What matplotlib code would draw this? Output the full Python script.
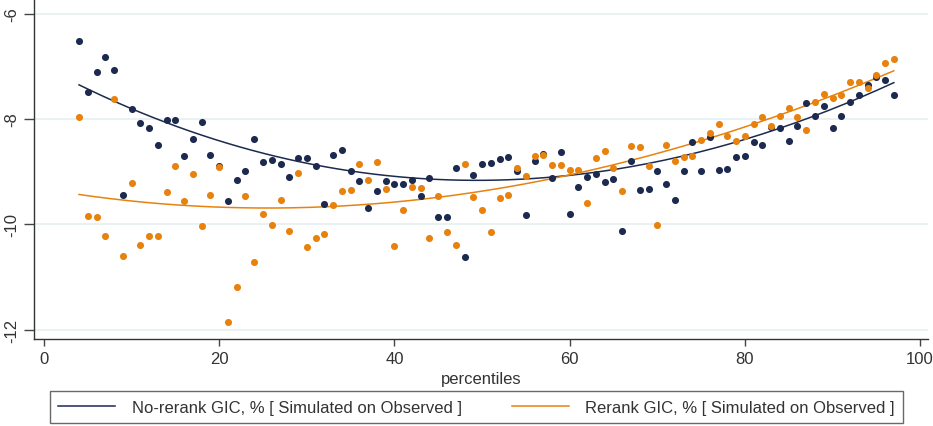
import numpy as np
import matplotlib
matplotlib.use("Agg")
import matplotlib.pyplot as plt
from matplotlib.lines import Line2D

plt.rcParams['font.family'] = ['Liberation Sans', 'DejaVu Sans']

percentiles = list(range(4, 98))

norerank = [-6.51, -7.48, -7.11, -6.83, -7.07, -9.45, -7.81, -8.08, -8.17, -8.50,
            -8.01, -8.01, -8.70, -8.38, -8.06, -8.69, -8.89, -9.56, -9.15, -8.99,
            -8.38, -8.81, -8.77, -8.85, -9.11, -8.75, -8.75, -8.89, -9.62, -8.68,
            -8.58, -8.99, -9.17, -9.70, -9.36, -9.17, -9.24, -9.24, -9.15, -9.46,
            -9.13, -9.87, -9.87, -8.94, -10.63, -9.06, -8.86, -8.84, -8.76, -8.72,
            -8.98, -9.83, -8.80, -8.67, -9.12, -8.63, -9.80, -9.30, -9.11, -9.05,
            -9.20, -9.14, -10.13, -8.80, -9.35, -9.33, -8.99, -9.24, -9.54, -8.99,
            -8.43, -8.98, -8.35, -8.96, -8.95, -8.72, -8.70, -8.43, -8.50, -8.16,
            -8.18, -8.42, -8.14, -7.70, -7.94, -7.75, -8.18, -7.94, -7.68, -7.55,
            -7.35, -7.20, -7.26, -7.55]

rerank = [-7.96, -9.85, -9.87, -10.22, -7.62, -10.61, -9.22, -10.40, -10.22, -10.22,
          -9.38, -8.89, -9.55, -9.04, -10.04, -9.45, -8.91, -11.85, -11.20, -9.46,
          -10.71, -9.80, -10.01, -9.53, -10.12, -9.03, -10.44, -10.27, -10.19, -9.64,
          -9.37, -9.34, -8.86, -9.15, -8.82, -9.33, -10.42, -9.72, -9.29, -9.32,
          -10.26, -9.46, -10.14, -10.40, -8.86, -9.49, -9.72, -10.15, -9.51, -9.44,
          -8.94, -9.08, -8.70, -8.68, -8.87, -8.88, -8.97, -8.97, -9.60, -8.74,
          -8.61, -8.94, -9.37, -8.51, -8.54, -8.89, -10.02, -8.49, -8.79, -8.72,
          -8.70, -8.39, -8.27, -8.10, -8.33, -8.42, -8.32, -8.10, -7.96, -8.13,
          -7.95, -7.79, -7.97, -8.20, -7.67, -7.53, -7.60, -7.55, -7.30, -7.30,
          -7.42, -7.16, -6.94, -6.86]

# fitted-curve values
trend_x = [4, 10.6, 18.2, 25.8, 32.6, 40.3, 47.9, 55.5, 63.1, 71.1, 78.7, 86.3, 97]
trend_norerank = [-7.35, -7.84, -8.32, -8.71, -8.92, -9.08, -9.14, -9.14, -9.01,
                  -8.79, -8.475, -8.00, -7.32]
trend_rerank = [-9.38, -9.61, -9.70, -9.71, -9.67, -9.557, -9.39, -9.17, -8.92,
                -8.63, -8.285, -7.80, -7.05]

labels = ["No-rerank GIC, % [ Simulated on Observed ]",
          "Rerank GIC, % [ Simulated on Observed ]"]
xticks = [0, 20, 40, 60, 80, 100]
yticks = [-12, -10, -8, -6]

navy = "#1b2a4e"
orange = "#e8820f"
txt = "#333333"

fig = plt.figure(figsize=(9.33, 4.27), dpi=100)
ax = fig.add_axes([34/933, 1 - 340/427, (928 - 34)/933, 340/427])

x = np.array(percentiles, dtype=float)
tx = np.array(trend_x, dtype=float)
for ys, c in [(trend_norerank, navy), (trend_rerank, orange)]:
    coef = np.polyfit(tx, np.array(ys), 3)
    xx = np.linspace(tx.min(), tx.max(), 200)
    ax.plot(xx, np.polyval(coef, xx), color=c, lw=1.1, zorder=3)

ax.scatter(x, norerank, s=26, color=navy, linewidths=0, zorder=4)
ax.scatter(x, rerank, s=26, color=orange, linewidths=0, zorder=5)

ax.set_xlim(-1.14, 100.9)
ax.set_ylim(-12.18, -5.72)
ax.set_xticks(xticks)
ax.set_yticks(yticks)
ax.set_xticklabels([str(t) for t in xticks])
ax.set_yticklabels([str(t) for t in yticks], rotation=90, va='center')
ax.grid(axis='y', color='#e6eff0', lw=1.2)
ax.set_axisbelow(True)
for s in ['top', 'right']:
    ax.spines[s].set_visible(False)
for s in ['left', 'bottom']:
    ax.spines[s].set_color('#333333')
    ax.spines[s].set_linewidth(1.0)
ax.tick_params(axis='both', colors='#444444', labelcolor=txt, labelsize=12, length=5, width=1)
ax.tick_params(axis='y', length=7)
ax.set_xlabel("percentiles", fontsize=12, color=txt, labelpad=4)

handles = [Line2D([], [], color=navy, lw=1.1), Line2D([], [], color=orange, lw=1.1)]
leg = fig.legend(handles, labels, loc='lower left', ncol=2, mode='expand',
                 bbox_to_anchor=(50/933, 3/427, 853/933, 30/427), borderaxespad=0,
                 fontsize=12, frameon=True, fancybox=False, handlelength=3.4,
                 handletextpad=1.0, borderpad=0.5, columnspacing=3)
leg.get_frame().set_edgecolor('#444444')
leg.get_frame().set_linewidth(1.0)
for t in leg.get_texts():
    t.set_color(txt)

fig.savefig("out.png", dpi=100)
